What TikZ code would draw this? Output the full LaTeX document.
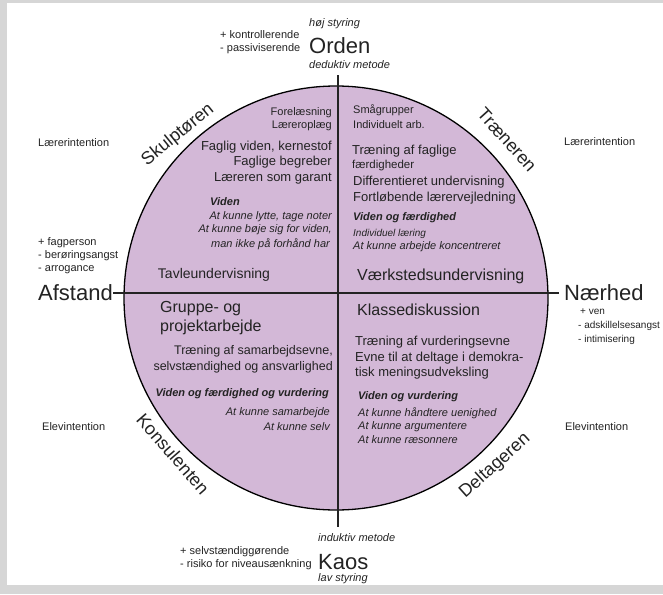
\documentclass[tikz,border=0pt]{standalone}
\usepackage{fontspec}
\setmainfont{Liberation Sans}
\setsansfont{Liberation Sans}
\newcommand{\fz}[1]{\fontsize{#1}{#1}\selectfont}
\definecolor{lilac}{RGB}{211,184,215}
\definecolor{ink}{RGB}{35,35,35}
\definecolor{framegray}{RGB}{214,214,214}
\begin{document}
\begin{tikzpicture}[x=1pt,y=-1pt,
  t/.style={inner sep=0pt, text=ink, font=\fz{#1}},
  ti/.style={inner sep=0pt, text=ink, font=\fz{#1}\itshape},
  tbi/.style={inner sep=0pt, text=ink, font=\fz{#1}\bfseries\itshape},
  axis/.style={draw=ink, line width=1.1pt},
  role/.style={inner sep=0pt, text=ink, font=\fz{18}},
  t/.default=11, ti/.default=11, tbi/.default=11]
\useasboundingbox (0,0) rectangle (663,594);
\fill[framegray] (0,0) rectangle (663,594);
\fill[white] (7,3) rectangle (663,585);

% disk
\node[circle, fill=lilac, draw=black, line width=1.3pt, minimum size=424pt, inner sep=0pt] (disk) at (336,298) {};

% top
\node[ti, anchor=west] (hoj) at (309,24) {høj styring};
\node[t, anchor=west] (kontr) at (220,35) {+ kontrollerende};
\node[t, anchor=west] (passiv) at (220,49) {- passiviserende};
\node[t=22, anchor=west] (orden) at (309,46) {Orden};
\node[ti, anchor=west] (deduk) at (309,65) {deduktiv metode};

% bottom
\node[ti, anchor=west] (induk) at (318,538) {induktiv metode};
\node[t, anchor=west] (selvst) at (180,552) {+ selvstændiggørende};
\node[t, anchor=west] (risiko) at (180,565) {- risiko for niveausænkning};
\node[t=22, anchor=west] (kaos) at (318,562) {Kaos};
\node[ti, anchor=west] (lav) at (318,579) {lav styring};

% left
\node[t, anchor=west] (lintL) at (38,143) {Lærerintention};
\node[t, anchor=west] (fagp) at (38,243) {+ fagperson};
\node[t, anchor=west] (berr) at (38,256) {- berøringsangst};
\node[t, anchor=west] (arro) at (38,270) {- arrogance};
\node[t=22, anchor=west] (afstand) at (38,293) {Afstand};
\node[t, anchor=west] (eintL) at (42,427) {Elevintention};

% right
\node[t, anchor=west] (lintR) at (564,142) {Lærerintention};
\node[t=22, anchor=west] (naerhed) at (564,293) {Nærhed};
\node[t=10, anchor=west] (ven) at (580,312) {+ ven};
\node[t=10, anchor=west] (adsk) at (578,326) {- adskillelsesangst};
\node[t=10, anchor=west] (intim) at (578,340) {- intimisering};
\node[t, anchor=west] (eintR) at (565,427) {Elevintention};

% axes
\coordinate (vt) at (338,75);
\coordinate (vb) at (338,527);
\coordinate (hr) at (559,293);
\draw[axis] (vt) -- (vb);
\draw[axis] (afstand.east) -- (hr);

% roles
\node[role, rotate=39] (skulp) at (178,135) {Skulptøren};
\node[role, rotate=-48] (traen) at (507,140) {Træneren};
\node[role, rotate=-49] (konsu) at (173,454) {Konsulenten};
\node[role, rotate=42] (delta) at (495,466) {Deltageren};

% upper left quadrant
\node[t, anchor=east] (q1a) at (332,113) {Forelæsning};
\node[t, anchor=east] (q1b) at (332,126) {Læreroplæg};
\node[t=13, anchor=east] (q1c) at (332,147) {Faglig viden, kernestof};
\node[t=13, anchor=east] (q1d) at (332,162) {Faglige begreber};
\node[t=13, anchor=east] (q1e) at (332,178) {Læreren som garant};
\node[tbi, anchor=west] (q1f) at (210,202) {Viden};
\node[ti, anchor=east] (q1g) at (332,217) {At kunne lytte, tage noter};
\node[ti, anchor=east] (q1h) at (332,230) {At kunne bøje sig for viden,};
\node[ti, anchor=east] (q1i) at (330,244) {man ikke på forhånd har};
\node[t=14] (q1t) at (214,275) {Tavleundervisning};

% upper right quadrant
\node[t, anchor=west] (q2a) at (353,110) {Smågrupper};
\node[t, anchor=west] (q2b) at (353,125) {Individuelt arb.};
\node[t=13, anchor=west] (q2c) at (352,151) {Træning af faglige};
\node[t=11.5, anchor=west] (q2d) at (352,166) {færdigheder};
\node[t=13, anchor=west] (q2e) at (353,182) {Differentieret undervisning};
\node[t=13, anchor=west] (q2f) at (353,198) {Fortløbende lærervejledning};
\node[tbi, anchor=west] (q2g) at (353,218) {Viden og færdighed};
\node[ti=10, anchor=west] (q2h) at (353,234) {Individuel læring};
\node[ti, anchor=west] (q2i) at (353,247) {At kunne arbejde koncentreret};
\node[t=16, anchor=west] (q2t) at (357,276) {Værkstedsundervisning};

% lower left quadrant
\node[t=16, anchor=west] (q3a) at (160,309) {Gruppe- og};
\node[t=16, anchor=west] (q3b) at (160,327) {projektarbejde};
\node[t=12.5, anchor=east] (q3c) at (333,351) {Træning af samarbejdsevne,};
\node[t=12.5, anchor=east] (q3d) at (333,367) {selvstændighed og ansvarlighed};
\node[tbi, anchor=east] (q3e) at (329,394) {Viden og færdighed og vurdering};
\node[ti, anchor=east] (q3f) at (330,413) {At kunne samarbejde};
\node[ti, anchor=east] (q3g) at (330,427) {At kunne selv};

% lower right quadrant
\node[t=16, anchor=west] (q4a) at (357,310) {Klassediskussion};
\node[t=13, anchor=west] (q4b) at (355,342) {Træning af vurderingsevne};
\node[t=13, anchor=west] (q4c) at (355,358) {Evne til at deltage i demokra-};
\node[t=13, anchor=west] (q4d) at (355,373) {tisk meningsudveksling};
\node[tbi, anchor=west] (q4e) at (358,397) {Viden og vurdering};
\node[ti, anchor=west] (q4f) at (358,413) {At kunne håndtere uenighed};
\node[ti, anchor=west] (q4g) at (358,427) {At kunne argumentere};
\node[ti, anchor=west] (q4h) at (358,440) {At kunne ræsonnere};
\end{tikzpicture}
\end{document}
